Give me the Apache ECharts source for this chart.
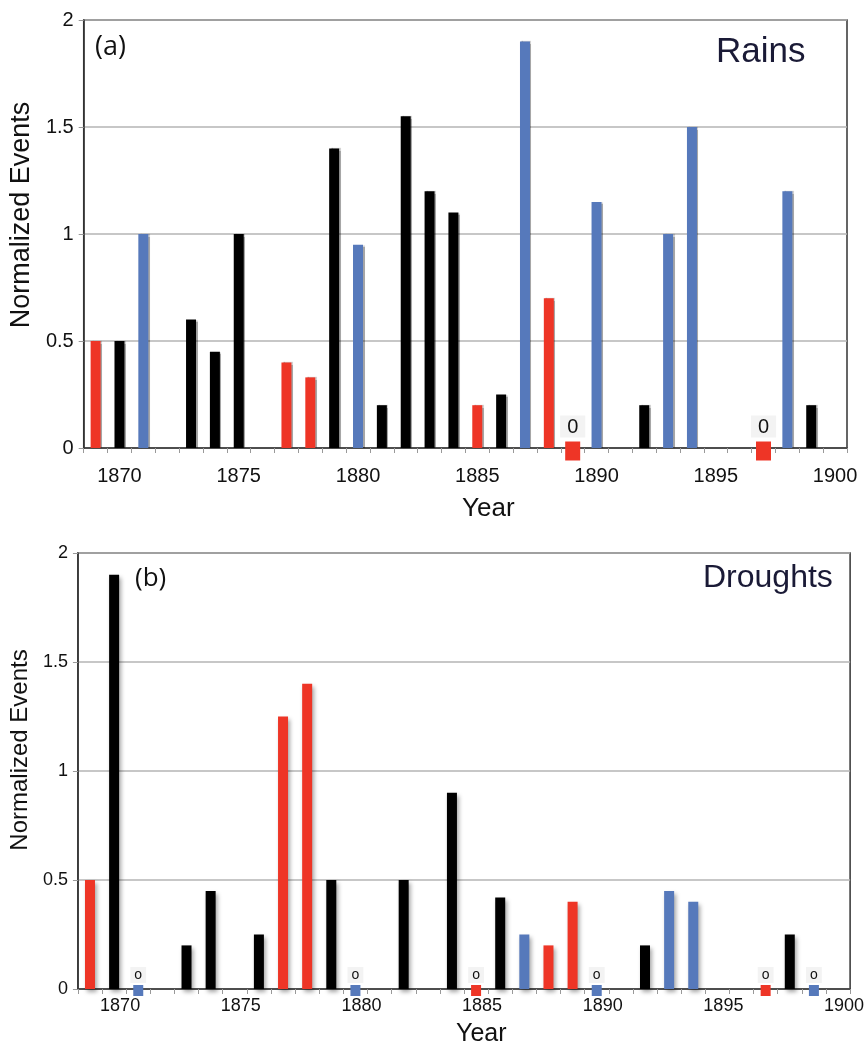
<!DOCTYPE html>
<html><head><meta charset="utf-8">
<script src="https://cdn.jsdelivr.net/npm/echarts@6/dist/echarts.min.js"></script>
<style>html,body{margin:0;padding:0;background:#fff}#c{width:867px;height:1043px}</style>
</head><body><div id="c"></div>
<script>
// ---- categories / ticks ----
const years = ['1869','1870','1871','1872','1873','1874','1875','1876','1877','1878','1879','1880',
  '1881','1882','1883','1884','1885','1886','1887','1888','1889','1890','1891','1892','1893','1894',
  '1895','1896','1897','1898','1899','1900'];
const yTicks = [0, 0.5, 1, 1.5, 2];
const yearLabels = ['1870','1875','1880','1885','1890','1895','1900'];

// ---- (a) Rains ----
const rainsRed   = [['1869',0.5],['1877',0.4],['1878',0.33],['1885',0.2],['1888',0.7]];
const rainsBlack = [['1870',0.5],['1873',0.6],['1874',0.45],['1875',1.0],['1879',1.4],['1881',0.2],
  ['1882',1.55],['1883',1.2],['1884',1.1],['1886',0.25],['1892',0.2],['1899',0.2]];
const rainsBlue  = [['1871',1.0],['1880',0.95],['1887',1.9],['1890',1.15],['1893',1.0],['1894',1.5],['1898',1.2]];
const rainsZeroRed = ['1889','1897'];

// ---- (b) Droughts ----
const droughtsRed   = [['1869',0.5],['1877',1.25],['1878',1.4],['1888',0.2],['1889',0.4]];
const droughtsBlack = [['1870',1.9],['1873',0.2],['1874',0.45],['1876',0.25],['1879',0.5],['1882',0.5],
  ['1884',0.9],['1886',0.42],['1892',0.2],['1898',0.25]];
const droughtsBlue  = [['1887',0.25],['1893',0.45],['1894',0.4]];
const droughtsZeroRed  = ['1885','1897'];
const droughtsZeroBlue = ['1871','1880','1890','1899'];

const RED = '#ee3526', BLACK = '#000000', BLUE = '#5679bb';
const FONT = 'Liberation Sans';

const toData = pairs => pairs.map(p => [years.indexOf(p[0]), p[1]]);
const toZero = ys => ys.map(y => [years.indexOf(y), 0]);

function barSeries(idx, pairs, color, shadow) {
  return {
    type: 'bar', xAxisIndex: idx, yAxisIndex: idx, data: toData(pairs),
    barWidth: 10, barGap: '-100%',
    itemStyle: Object.assign({ color: color, opacity: 1 }, shadow),
    animation: false
  };
}
function zeroSeries(idx, ys, color, txt, size, off, lblStyle) {
  return {
    type: 'scatter', xAxisIndex: idx, yAxisIndex: idx, data: toZero(ys),
    symbol: 'rect', symbolSize: size, symbolOffset: off,
    itemStyle: { color: color, opacity: 1 }, z: 5,
    label: Object.assign({ show: true, position: 'top', formatter: txt, color: '#111',
      fontFamily: FONT, backgroundColor: '#f3f3f3' }, lblStyle),
    emphasis: { disabled: true },
    animation: false
  };
}

const shadowA = { shadowColor: 'rgba(0,0,0,0.35)', shadowBlur: 1, shadowOffsetX: 1.5, shadowOffsetY: 0 };
const shadowB = { shadowColor: 'rgba(0,0,0,0.35)', shadowBlur: 4, shadowOffsetX: 2, shadowOffsetY: 3 };

function xAxisCfg(idx, fs, margin, pad) {
  return {
    type: 'category', gridIndex: idx, data: years,
    axisLine: { lineStyle: { color: '#333', width: 1.5 } },
    axisTick: { show: true, interval: 0, length: 5, lineStyle: { color: '#999' } },
    axisLabel: { interval: (i, v) => yearLabels.indexOf(v) >= 0, fontSize: fs, color: '#111',
      fontFamily: FONT, margin: margin, padding: pad },
    splitLine: { show: false }
  };
}
function yAxisCfg(idx, fs, nfs, gap, npad) {
  return {
    type: 'value', gridIndex: idx, min: yTicks[0], max: yTicks[yTicks.length - 1], interval: 0.5,
    name: 'Normalized Events', nameLocation: 'middle', nameGap: gap,
    nameTextStyle: { fontSize: nfs, color: '#111', fontFamily: FONT, padding: npad },
    axisLine: { show: true, lineStyle: { color: '#333', width: 1.5 } },
    axisTick: { show: true, length: 5, lineStyle: { color: '#999' } },
    axisLabel: { fontSize: fs, color: '#111', fontFamily: FONT, margin: 10 },
    splitLine: { lineStyle: { color: '#b4b4b4', width: 1.5 } }
  };
}

const chart = echarts.init(document.getElementById('c'), null, { renderer: 'canvas' });
chart.setOption({
  backgroundColor: '#ffffff',
  animation: false,
  grid: [
    { left: 78, top: 20, width: 769, height: 428, show: true, borderColor: '#333', borderWidth: 1.5 },
    { left: 75, top: 553, width: 776, height: 436, show: true, borderColor: '#333', borderWidth: 1.5 }
  ],
  xAxis: [xAxisCfg(0, 20, 18, [0, 0, 0, 0]), xAxisCfg(1, 18, 8, [0, 0, 0, 12])],
  yAxis: [yAxisCfg(0, 20, 27, 42, [0, 0, 0, 38]), yAxisCfg(1, 18, 24, 38, [0, 0, 0, 42])],
  graphic: [
    { type: 'text', left: 95, top: 34, style: { text: '(a)', fontSize: 27, fill: '#111', fontFamily: 'Open Sans' } },
    { type: 'text', left: 716, top: 35, style: { text: 'Rains', fontSize: 35, fill: '#1a1a36', fontFamily: FONT } },
    { type: 'text', left: 462, top: 496, style: { text: 'Year', fontSize: 26, fill: '#111', fontFamily: FONT } },
    { type: 'text', left: 135, top: 566, style: { text: '(b)', fontSize: 26, fill: '#111', fontFamily: 'Open Sans' } },
    { type: 'text', left: 703, top: 562, style: { text: 'Droughts', fontSize: 32, fill: '#1a1a36', fontFamily: FONT } },
    { type: 'text', left: 456, top: 1022, style: { text: 'Year', fontSize: 25, fill: '#111', fontFamily: FONT } }
  ],
  series: [
    barSeries(0, rainsRed, RED, shadowA),
    barSeries(0, rainsBlack, BLACK, shadowA),
    barSeries(0, rainsBlue, BLUE, shadowA),
    zeroSeries(0, rainsZeroRed, RED, '0', [15, 19], [0, 3], { fontSize: 20, distance: 4, padding: [2, 7, 0, 7] }),
    barSeries(1, droughtsRed, RED, shadowB),
    barSeries(1, droughtsBlack, BLACK, shadowB),
    barSeries(1, droughtsBlue, BLUE, shadowB),
    zeroSeries(1, droughtsZeroRed, RED, 'o', [10, 11], [0, 1.5], { fontSize: 14, distance: 2, padding: [1, 4, 1, 4] }),
    zeroSeries(1, droughtsZeroBlue, BLUE, 'o', [10, 11], [0, 1.5], { fontSize: 14, distance: 2, padding: [1, 4, 1, 4] })
  ]
});
</script>
</body></html>
